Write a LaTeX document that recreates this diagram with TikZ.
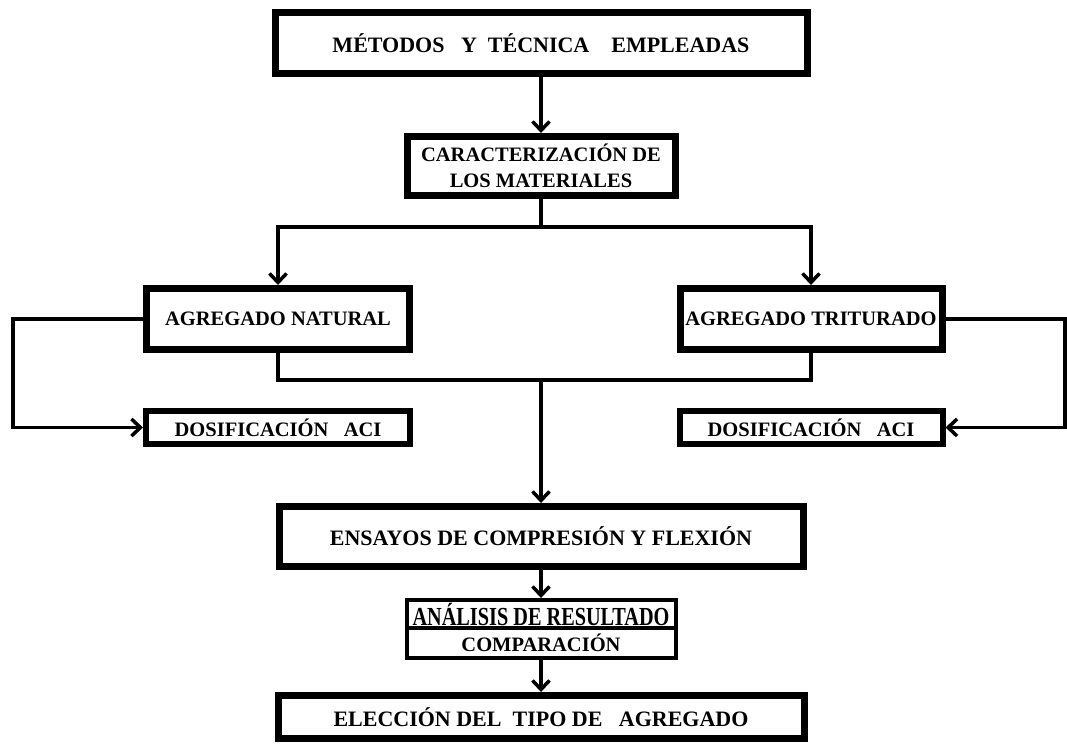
\documentclass[tikz,border=0pt]{standalone}
\usepackage{fontspec}
\setmainfont{Liberation Serif}
\usetikzlibrary{arrows.meta,positioning}

\begin{document}
\begin{tikzpicture}[x=1pt,y=-1pt,
		caja/.style={draw,line width=7pt,inner sep=0pt,align=center,font=\bfseries\fontsize{20.5}{26}\selectfont},
		cajagrande/.style={caja,font=\bfseries\fontsize{22}{26}\selectfont},
		cajadelgada/.style={caja,line width=6pt},
		cajafina/.style={caja,line width=4pt},
		linea/.style={line width=3.5pt},
		flecha/.style={linea,-{Straight Barb[length=9pt,width=17pt,line width=3.5pt]}}]
		\useasboundingbox (0,0) rectangle (1067,753);
		% cajas
		\node[cajagrande,minimum width=532,minimum height=61] (metodos) at (541,43) {MÉTODOS\ \ \ Y\ \ TÉCNICA\ \ \ \ EMPLEADAS};
		\node[caja,minimum width=268,minimum height=59] (caract) at (541,166) {CARACTERIZACIÓN DE\\LOS MATERIALES};
		\node[caja,minimum width=263,minimum height=61] (natural) at (278,319) {AGREGADO NATURAL};
		\node[caja,minimum width=262,minimum height=61] (triturado) at (811,319) {AGREGADO TRITURADO};
		\node[cajadelgada,minimum width=264,minimum height=33] (dosnat) at (278,427.5) {DOSIFICACIÓN\ \ \ ACI};
		\node[cajadelgada,minimum width=263,minimum height=33] (dostrit) at (811,427.5) {DOSIFICACIÓN\ \ \ ACI};
		\node[cajagrande,minimum width=524,minimum height=60] (ensayos) at (541,536.5) {ENSAYOS DE COMPRESIÓN Y FLEXIÓN};
		\node[cajafina,minimum width=269,minimum height=28,font=\bfseries\fontsize{26}{26}\selectfont] (analisis) at (541,614) {\scalebox{0.78}[1]{ANÁLISIS DE RESULTADO}};
		\node[cajafina,minimum width=269,minimum height=30] (comparacion) at (541,643) {COMPARACIÓN};
		\node[cajagrande,minimum width=526,minimum height=43] (eleccion) at (541,717) {ELECCIÓN DEL\ \ TIPO DE\ \ \ AGREGADO};
		% puntos de union
		\coordinate (ramal) at (541,227);
		\coordinate (union) at (541,380);
		\coordinate (izq) at (13,380);
		\coordinate (der) at (1065,380);
		% conectores
		\draw[flecha] (metodos) -- (caract);
		\draw[linea] (caract) -- (ramal);
		\draw[flecha] (ramal) -| (natural);
		\draw[flecha] (ramal) -| (triturado);
		\draw[flecha] (natural.west) -| (izq) |- (dosnat);
		\draw[flecha] (triturado.east) -| (der) |- (dostrit);
		\draw[linea] (natural) |- (union);
		\draw[linea] (triturado) |- (union);
		\draw[flecha] (union) -- (ensayos);
		\draw[flecha] (ensayos) -- (analisis);
		\draw[flecha] (comparacion) -- (eleccion);
\end{tikzpicture}
\end{document}
